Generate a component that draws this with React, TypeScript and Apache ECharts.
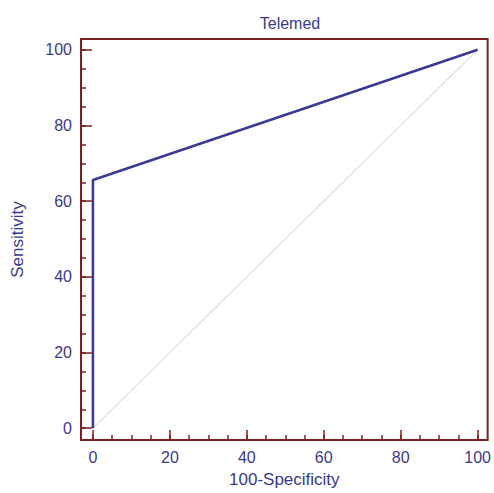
import React, { useEffect, useRef } from "react";
import * as echarts from "echarts";

const rocPoints: [number, number][] = [
  [0, 0],
  [0, 65.6],
  [100, 100],
];
const diagonal: [number, number][] = [
  [0, 0],
  [100, 100],
];
const majorTicks = [0, 20, 40, 60, 80, 100];
const minorTicks = [0, 5, 10, 15, 20, 25, 30, 35, 40, 45, 50, 55, 60, 65, 70, 75, 80, 85, 90, 95, 100];

const FRAME = "#7d1f1f";
const NAVY = "#3a3a8c";
const FONT = "Liberation Sans, Arial, sans-serif";

export default function App() {
  const ref = useRef<HTMLDivElement>(null);
  useEffect(() => {
    if (!ref.current) return;
    const chart = echarts.init(ref.current, null, { renderer: "svg" });
    const xRange = { min: -3.1, max: 102.6 };
    const yRange = { min: -3.12, max: 102.86 };
    const baseAxis = {
      type: "value" as const,
      splitLine: { show: false },
      axisLine: { show: false, onZero: false },
    };
    chart.setOption({
      animation: false,
      backgroundColor: "#ffffff",
      title: {
        text: "Telemed",
        left: 285,
        textAlign: "center",
        top: 10,
        textStyle: { color: NAVY, fontSize: 16, fontWeight: "normal", fontFamily: FONT },
      },
      grid: {
        left: 81,
        right: 5,
        top: 39,
        bottom: 49,
        show: true,
        borderColor: FRAME,
        borderWidth: 2,
        backgroundColor: "transparent",
      },
      xAxis: [
        {
          ...baseAxis,
          ...xRange,
          name: "100-Specificity",
          nameLocation: "middle",
          nameGap: 31,
          nameTextStyle: { color: NAVY, fontSize: 17, fontFamily: FONT },
          axisTick: { show: true, inside: true, length: 10, customValues: majorTicks, lineStyle: { color: FRAME, width: 1.5 } },
          axisLabel: { show: true, customValues: majorTicks, color: NAVY, fontSize: 16, fontFamily: FONT, margin: 9 },
        },
        {
          ...baseAxis,
          ...xRange,
          position: "bottom",
          axisTick: { show: true, inside: true, length: 5, customValues: minorTicks, lineStyle: { color: FRAME, width: 1.5 } },
          axisLabel: { show: false },
        },
      ],
      yAxis: [
        {
          ...baseAxis,
          ...yRange,
          name: "Sensitivity",
          nameLocation: "middle",
          nameGap: 55,
          nameTextStyle: { color: NAVY, fontSize: 17, fontFamily: FONT },
          axisTick: { show: true, inside: true, length: 11, customValues: majorTicks, lineStyle: { color: FRAME, width: 1.5 } },
          axisLabel: { show: true, customValues: majorTicks, color: NAVY, fontSize: 16, fontFamily: FONT, margin: 9 },
        },
        {
          ...baseAxis,
          ...yRange,
          position: "left",
          axisTick: { show: true, inside: true, length: 5, customValues: minorTicks, lineStyle: { color: FRAME, width: 1.5 } },
          axisLabel: { show: false },
        },
      ],
      series: [
        {
          type: "line",
          data: diagonal,
          symbol: "none",
          lineStyle: { color: "#d4cccc", width: 1 },
          silent: true,
        },
        {
          type: "line",
          data: rocPoints,
          symbol: "none",
          lineStyle: { color: "#3b3b94", width: 2.6 },
          silent: true,
        },
      ],
    });
    return () => chart.dispose();
  }, []);
  return (
    <div
      ref={ref}
      style={{ position: "fixed", left: 0, top: 0, width: 494, height: 493 }}
    />
  );
}
